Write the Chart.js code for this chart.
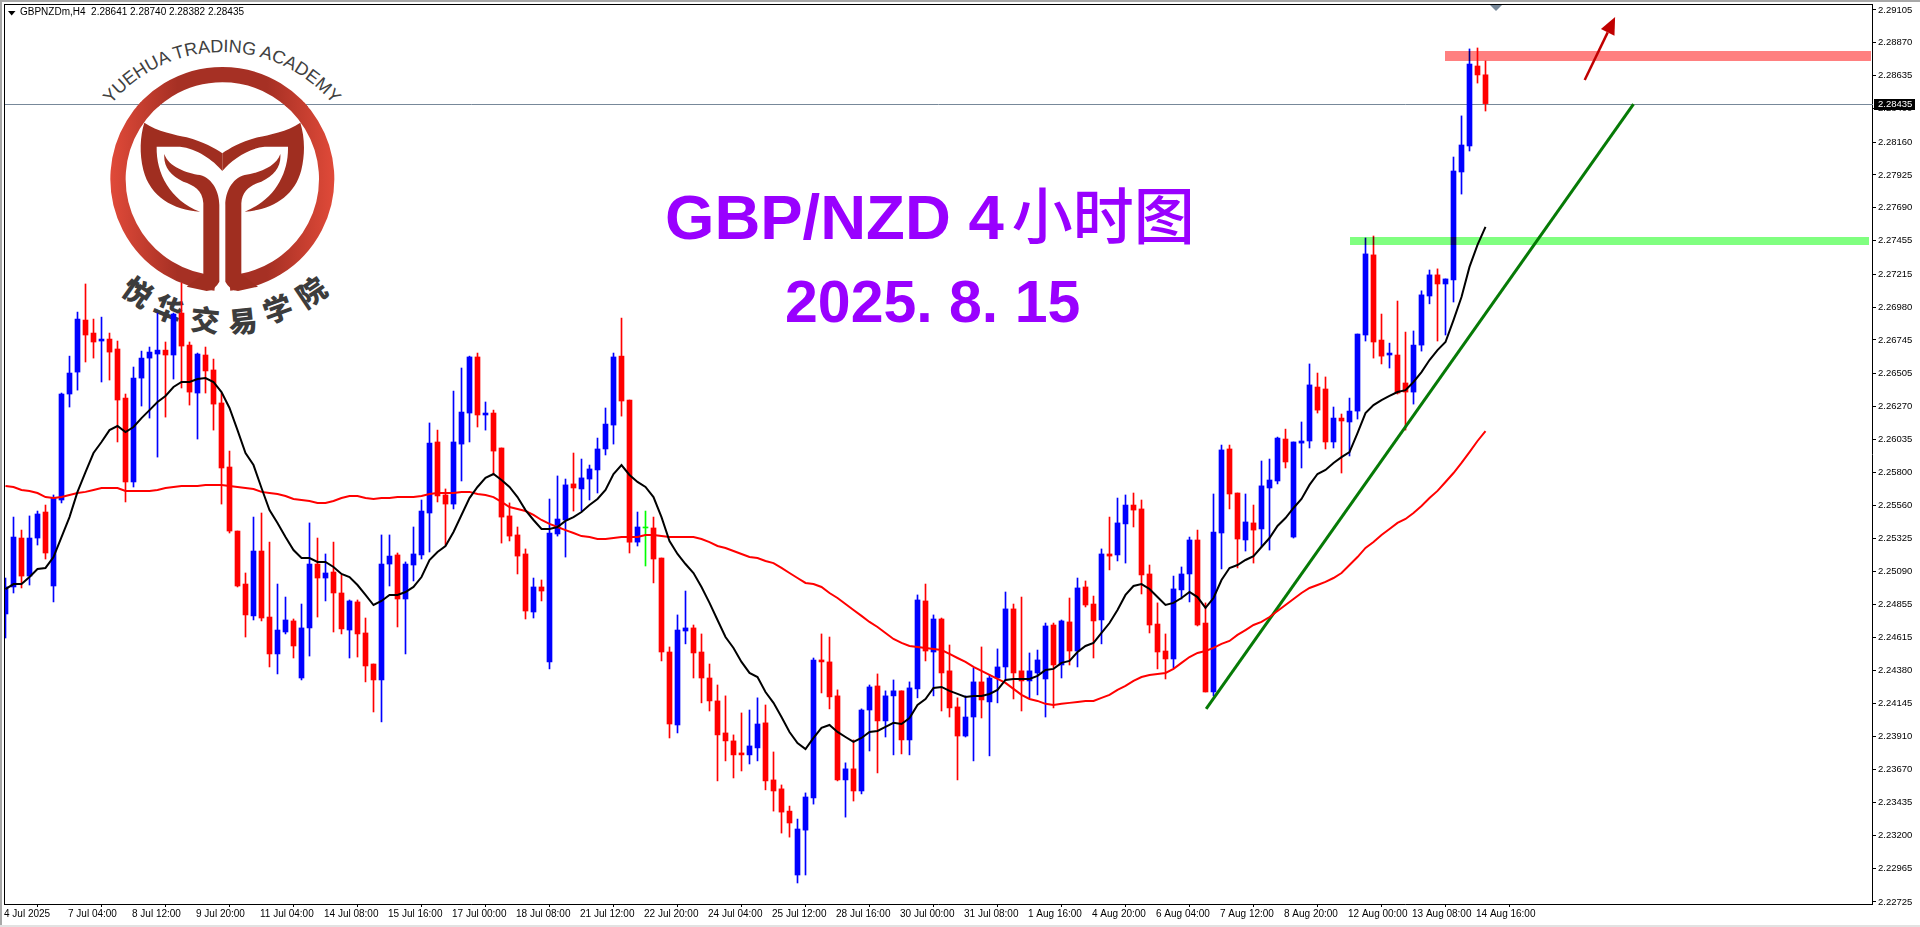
<!DOCTYPE html>
<html><head><meta charset="utf-8"><title>GBP/NZD H4</title>
<style>
html,body{margin:0;padding:0;background:#fff;width:1920px;height:927px;overflow:hidden}
#bg,#fg,canvas{position:absolute;left:0;top:0}
canvas{background:transparent}
#fg{pointer-events:none}
.chrome{position:absolute;background:#a8a8a8}
</style>
<script src="https://cdn.jsdelivr.net/npm/chart.js@4/dist/chart.umd.min.js"></script>
</head><body>
<svg id="bg" width="1920" height="927" viewBox="0 0 1920 927" xmlns="http://www.w3.org/2000/svg">
 <defs>
  <linearGradient id="ringGrad" gradientUnits="userSpaceOnUse" x1="331" y1="0" x2="1003" y2="0">
   <stop offset="0" stop-color="#e04a39"/><stop offset="0.3" stop-color="#a63024"/><stop offset="0.7" stop-color="#a63024"/><stop offset="1" stop-color="#e04a39"/>
  </linearGradient>
  <path id="topArc" d="M 87 146 A 144 144 0 0 1 357 146"/>
  <g id="ring"><path transform="scale(0.33333)" d="M 645 849 A 313 313 0 1 1 689 849" fill="none" stroke="url(#ringGrad)" stroke-width="46"/></g>
 </defs>
 <g id="logo">
  <use href="#ring"/>
  <g transform="scale(0.33333)" fill="#a02e20">
   <path id="armL" d="M433 368 C470 395 530 405 560 412 C610 425 645 445 667 460 L667 513 C640 480 590 445 540 440 L470 440 C468 520 510 600 600 635 C520 630 450 590 430 510 C418 460 420 410 433 368 Z"/>
   <path id="stemL" d="M493 462 C505 500 560 520 600 525 C640 535 658 580 658 615 L658 845 Q645 870 620 873 L560 860 L610 822 L610 610 C608 570 580 555 550 545 C510 525 490 500 493 462 Z"/>
   <use href="#armL" transform="translate(1334 0) scale(-1 1)"/>
   <use href="#stemL" transform="translate(1334 0) scale(-1 1)"/>
  </g>
  <text font-family="Liberation Sans" font-size="18" fill="#404040"><textPath href="#topArc" startOffset="50%" text-anchor="middle">YUEHUA TRADING ACADEMY</textPath></text>
  <g font-family="Noto Sans CJK SC" font-weight="900" font-size="29" fill="#3c3c3c" text-anchor="middle">
   <text transform="translate(137 293) rotate(35) translate(0 10)">悦</text>
   <text transform="translate(168 310) rotate(22) translate(0 10)">华</text>
   <text transform="translate(205 321) rotate(6) translate(0 10)">交</text>
   <text transform="translate(243 322) rotate(-6) translate(0 10)">易</text>
   <text transform="translate(278 310) rotate(-20) translate(0 10)">学</text>
   <text transform="translate(312 293) rotate(-34) translate(0 10)">院</text>
  </g>
 </g>
 <text x="665" y="239" font-family="Liberation Sans" font-weight="700" font-size="63.5" fill="#9900ff">GBP/NZD 4<tspan font-family="Noto Sans CJK SC" font-weight="500" font-size="61" dx="8">小时图</tspan></text>
 <text x="785" y="322" font-family="Liberation Sans" font-weight="700" font-size="59" fill="#9900ff">2025. 8. 15</text>
</svg>
<canvas id="c" width="1920" height="927"></canvas>
<svg id="fg" width="1920" height="927" viewBox="0 0 1920 927" xmlns="http://www.w3.org/2000/svg">
 <defs><clipPath id="lineRow"><rect x="0" y="102" width="1920" height="5"/></clipPath></defs>
 <g clip-path="url(#lineRow)"><use href="#ring"/></g>
</svg>
<div class="chrome" style="left:0;top:0;width:1920px;height:2px"></div>
<div class="chrome" style="left:0;top:0;width:2px;height:925px"></div>
<div class="chrome" style="left:0;top:925px;width:1920px;height:2px;background:#e2e2e2"></div>
<script>
const headerText = "GBPNZDm,H4  2.28641 2.28740 2.28382 2.28435";
const opens = [2.24785,2.24978,2.25328,2.25056,2.25328,2.25514,2.24985,2.25600,2.26358,2.26515,
2.26887,2.26794,2.26737,2.26751,2.26680,2.26329,2.25729,2.26472,2.26615,2.26644,
2.26672,2.26637,2.26937,2.26708,2.26365,2.26637,2.26530,2.26294,2.25836,2.25378,
2.24999,2.24771,2.25235,2.24763,2.24499,2.24656,2.24735,2.24327,2.24685,2.25142,
2.25042,2.25085,2.24935,2.24670,2.24871,2.24649,2.24427,2.24313,2.25142,2.25207,
2.24892,2.25135,2.25207,2.25507,2.26015,2.25636,2.25571,2.26000,2.26222,2.26623,
2.26208,2.26222,2.25972,2.25486,2.25350,2.25214,2.24799,2.24978,2.24442,2.25357,
2.25457,2.25715,2.25679,2.25750,2.25815,2.25965,2.26136,2.26629,2.26315,2.25299,
2.25400,2.25400,2.25185,2.24513,2.23991,2.24663,2.24685,2.24513,2.24327,2.24163,
2.23934,2.23877,2.23791,2.23777,2.23827,2.24006,2.23598,2.23534,2.23375,2.22918,
2.23239,2.23469,2.24456,2.24442,2.24199,2.23598,2.23677,2.23519,2.24098,2.24270,
2.24020,2.24199,2.24235,2.23884,2.24249,2.24878,2.24513,2.24749,2.24378,2.24120,
2.23912,2.24048,2.24299,2.24156,2.24327,2.24406,2.24821,2.24378,2.24306,2.24363,
2.24320,2.24706,2.24420,2.24728,2.24520,2.24978,2.24856,2.24742,2.25214,2.25207,
2.25429,2.25564,2.25536,2.25071,2.24713,2.24520,2.24463,2.24957,2.25071,2.25314,
2.24720,2.24227,2.25364,2.25965,2.25650,2.25314,2.25436,2.25393,2.25686,2.25736,
2.26036,2.25335,2.26007,2.26022,2.26408,2.26394,2.26015,2.26186,2.26158,2.26236,
2.26780,2.27353,2.26744,2.26637,2.26637,2.26437,2.26372,2.26708,2.27059,2.27210,
2.27145,2.27174,2.27946,2.28132,2.28704,2.28641];
const closes = [2.24978,2.25335,2.25056,2.25328,2.25500,2.25221,2.25614,2.26358,2.26508,2.26894,
2.26780,2.26730,2.26751,2.26658,2.26315,2.25729,2.26472,2.26615,2.26658,2.26672,
2.26637,2.26930,2.26701,2.26372,2.26644,2.26523,2.26286,2.25829,2.25378,2.24985,
2.24778,2.25235,2.24756,2.24499,2.24670,2.24742,2.24556,2.24685,2.25142,2.25042,
2.25078,2.24935,2.24678,2.24878,2.24642,2.24413,2.24313,2.25142,2.25199,2.24892,
2.25142,2.25214,2.25521,2.26007,2.25629,2.25571,2.26015,2.26229,2.26623,2.26208,
2.26222,2.25950,2.25478,2.25342,2.25199,2.24806,2.24978,2.24949,2.25364,2.25464,
2.25708,2.25686,2.25758,2.25822,2.25965,2.26143,2.26623,2.26308,2.25299,2.25407,
2.25400,2.25178,2.24513,2.23998,2.24670,2.24685,2.24506,2.24327,2.24163,2.23920,
2.23877,2.23777,2.23777,2.23841,2.23998,2.23591,2.23519,2.23368,2.23290,2.23247,
2.23476,2.24456,2.24442,2.24192,2.23598,2.23677,2.23519,2.24098,2.24263,2.24020,
2.24199,2.24235,2.23884,2.24256,2.24885,2.24520,2.24749,2.24363,2.24113,2.23912,
2.24048,2.24299,2.24170,2.24327,2.24406,2.24821,2.24363,2.24306,2.24378,2.24456,
2.24699,2.24420,2.24735,2.24520,2.24971,2.24849,2.24735,2.25214,2.25199,2.25436,
2.25564,2.25528,2.25064,2.24706,2.24513,2.24463,2.24964,2.25071,2.25314,2.24706,
2.24227,2.25371,2.25958,2.25643,2.25321,2.25443,2.25385,2.25701,2.25743,2.26043,
2.25872,2.26015,2.26022,2.26423,2.26243,2.26015,2.26186,2.26165,2.26236,2.26787,
2.27360,2.26730,2.26629,2.26651,2.26365,2.26372,2.26708,2.27067,2.27210,2.27145,
2.27181,2.27953,2.28139,2.28718,2.28640,2.28435];
const highs = [2.25042,2.25478,2.25385,2.25486,2.25521,2.25564,2.25636,2.26365,2.26629,2.26944,
2.27145,2.26894,2.26908,2.26794,2.26737,2.26358,2.26551,2.26665,2.26694,2.26937,
2.26730,2.26937,2.27152,2.26730,2.26651,2.26694,2.26608,2.26365,2.25950,2.25378,
2.25078,2.25478,2.25507,2.25299,2.24999,2.24906,2.24749,2.24856,2.25436,2.25328,
2.25214,2.25299,2.25064,2.24885,2.24885,2.24756,2.24427,2.25350,2.25350,2.25221,
2.25157,2.25407,2.25600,2.26151,2.26100,2.25679,2.26379,2.26544,2.26629,2.26651,
2.26301,2.26243,2.25972,2.25579,2.25407,2.25250,2.25042,2.25028,2.25607,2.25772,
2.25750,2.25936,2.25893,2.25850,2.26043,2.26258,2.26651,2.26901,2.26315,2.25514,
2.25521,2.25478,2.25185,2.24549,2.24778,2.24949,2.24706,2.24642,2.24427,2.24277,
2.24199,2.23920,2.24077,2.24098,2.24185,2.24134,2.23798,2.23562,2.23411,2.23318,
2.23505,2.24470,2.24642,2.24620,2.24242,2.23720,2.23884,2.24106,2.24277,2.24356,
2.24235,2.24313,2.24235,2.24299,2.24921,2.24999,2.24778,2.24756,2.24563,2.24185,
2.24199,2.24399,2.24549,2.24349,2.24535,2.24942,2.24856,2.24906,2.24506,2.24527,
2.24720,2.24720,2.24742,2.24899,2.25042,2.25021,2.24913,2.25250,2.25478,2.25614,
2.25636,2.25650,2.25600,2.25135,2.24864,2.24642,2.25056,2.25121,2.25335,2.25385,
2.24864,2.25643,2.25993,2.25993,2.25650,2.25643,2.25564,2.25879,2.25893,2.26050,
2.26107,2.26015,2.26158,2.26573,2.26508,2.26480,2.26265,2.26215,2.26329,2.26787,
2.27474,2.27488,2.26930,2.26722,2.27023,2.26801,2.26809,2.27096,2.27245,2.27253,
2.27181,2.28053,2.28347,2.28826,2.28833,2.28740];
const lows = [2.24613,2.24935,2.24971,2.24992,2.25278,2.25178,2.24871,2.25579,2.26265,2.26386,
2.26587,2.26615,2.26444,2.26458,2.26015,2.25586,2.25693,2.26272,2.26186,2.25907,
2.26193,2.26465,2.26401,2.26279,2.26036,2.26365,2.26100,2.25571,2.25364,2.24978,
2.24620,2.24742,2.24735,2.24406,2.24356,2.24642,2.24470,2.24313,2.24484,2.24763,
2.24878,2.24656,2.24642,2.24470,2.24477,2.24299,2.24084,2.24013,2.24985,2.24692,
2.24499,2.25021,2.25178,2.25228,2.25586,2.25278,2.25536,2.25736,2.26015,2.26122,
2.26100,2.25779,2.25292,2.25307,2.25071,2.24749,2.24756,2.24878,2.24392,2.25342,
2.25192,2.25521,2.25521,2.25600,2.25650,2.25922,2.26000,2.26200,2.25221,2.25271,
2.25128,2.25007,2.24449,2.23898,2.23934,2.24571,2.24327,2.24149,2.24091,2.23591,
2.23734,2.23612,2.23662,2.23712,2.23734,2.23527,2.23375,2.23218,2.23189,2.22861,
2.22918,2.23425,2.24220,2.24106,2.23591,2.23332,2.23447,2.23498,2.23805,2.23648,
2.23905,2.23777,2.23784,2.23777,2.24185,2.24449,2.24199,2.24091,2.24048,2.23598,
2.23905,2.23734,2.24041,2.23770,2.24149,2.24313,2.24177,2.24091,2.24185,2.24206,
2.24048,2.24113,2.24327,2.24420,2.24406,2.24835,2.24470,2.24571,2.25100,2.25164,
2.25149,2.25407,2.24928,2.24649,2.24392,2.24320,2.24399,2.24892,2.24871,2.24699,
2.24227,2.24199,2.25107,2.25536,2.25114,2.25235,2.25149,2.25264,2.25242,2.25715,
2.25829,2.25328,2.25829,2.25972,2.26222,2.25965,2.25972,2.25793,2.25915,2.26179,
2.26737,2.26615,2.26573,2.26544,2.26358,2.26100,2.26286,2.26665,2.27003,2.26737,
2.26780,2.27016,2.27788,2.28096,2.28582,2.28382];
const fastMA = [2.24963,2.24999,2.24999,2.25049,2.25107,2.25114,2.25192,2.25335,2.25478,2.25658,
2.25800,2.25936,2.26015,2.26100,2.26129,2.26086,2.26122,2.26186,2.26243,2.26301,
2.26344,2.26408,2.26444,2.26444,2.26465,2.26472,2.26444,2.26372,2.26258,2.26100,
2.25936,2.25850,2.25686,2.25528,2.25436,2.25335,2.25242,2.25185,2.25185,2.25157,
2.25157,2.25121,2.25071,2.25049,2.24992,2.24921,2.24849,2.24878,2.24921,2.24921,
2.24942,2.24978,2.25049,2.25171,2.25228,2.25271,2.25371,2.25493,2.25614,2.25693,
2.25758,2.25786,2.25743,2.25693,2.25621,2.25528,2.25457,2.25393,2.25393,2.25407,
2.25450,2.25478,2.25514,2.25564,2.25607,2.25672,2.25786,2.25850,2.25779,2.25729,
2.25693,2.25621,2.25478,2.25307,2.25214,2.25142,2.25078,2.24978,2.24864,2.24742,
2.24620,2.24542,2.24442,2.24363,2.24334,2.24227,2.24149,2.24048,2.23941,2.23862,
2.23819,2.23898,2.23970,2.23991,2.23941,2.23905,2.23870,2.23898,2.23941,2.23948,
2.23977,2.24006,2.23998,2.24041,2.24134,2.24177,2.24256,2.24263,2.24235,2.24213,
2.24192,2.24199,2.24199,2.24213,2.24242,2.24313,2.24320,2.24320,2.24320,2.24342,
2.24385,2.24392,2.24435,2.24449,2.24513,2.24556,2.24578,2.24649,2.24720,2.24813,
2.24921,2.24985,2.24999,2.24964,2.24906,2.24849,2.24864,2.24899,2.24942,2.24906,
2.24828,2.24899,2.25028,2.25114,2.25135,2.25171,2.25199,2.25264,2.25328,2.25414,
2.25471,2.25543,2.25607,2.25708,2.25786,2.25815,2.25865,2.25907,2.25943,2.26079,
2.26222,2.26279,2.26315,2.26344,2.26372,2.26386,2.26444,2.26515,2.26601,2.26672,
2.26730,2.26887,2.27052,2.27267,2.27424,2.27553];
const slowMA = [2.25700,2.25693,2.25672,2.25665,2.25650,2.25621,2.25614,2.25621,2.25636,2.25650,
2.25658,2.25672,2.25686,2.25686,2.25686,2.25665,2.25665,2.25665,2.25665,2.25672,
2.25686,2.25693,2.25700,2.25700,2.25700,2.25708,2.25708,2.25708,2.25700,2.25693,
2.25686,2.25679,2.25658,2.25650,2.25643,2.25629,2.25607,2.25600,2.25593,2.25579,
2.25579,2.25593,2.25614,2.25629,2.25629,2.25614,2.25607,2.25614,2.25614,2.25621,
2.25621,2.25621,2.25629,2.25643,2.25650,2.25650,2.25650,2.25658,2.25658,2.25643,
2.25636,2.25621,2.25586,2.25550,2.25536,2.25521,2.25493,2.25457,2.25429,2.25407,
2.25385,2.25364,2.25342,2.25335,2.25321,2.25321,2.25328,2.25335,2.25335,2.25335,
2.25350,2.25350,2.25342,2.25335,2.25335,2.25335,2.25335,2.25321,2.25299,2.25271,
2.25257,2.25235,2.25214,2.25192,2.25185,2.25164,2.25149,2.25114,2.25078,2.25042,
2.25007,2.24999,2.24978,2.24935,2.24899,2.24856,2.24813,2.24771,2.24728,2.24692,
2.24649,2.24606,2.24578,2.24556,2.24549,2.24542,2.24535,2.24527,2.24499,2.24470,
2.24442,2.24406,2.24378,2.24349,2.24320,2.24292,2.24249,2.24206,2.24177,2.24163,
2.24142,2.24134,2.24142,2.24149,2.24156,2.24163,2.24163,2.24185,2.24206,2.24242,
2.24270,2.24306,2.24334,2.24349,2.24356,2.24363,2.24392,2.24435,2.24477,2.24506,
2.24520,2.24542,2.24571,2.24592,2.24635,2.24670,2.24706,2.24728,2.24763,2.24806,
2.24849,2.24892,2.24935,2.24971,2.24992,2.25014,2.25042,2.25078,2.25135,2.25192,
2.25257,2.25299,2.25350,2.25393,2.25436,2.25464,2.25507,2.25557,2.25614,2.25665,
2.25729,2.25793,2.25865,2.25943,2.26022,2.26093];
const priceTicks = [2.29105,2.28870,2.28635,2.28400,2.28160,2.27925,2.27690,2.27455,2.27215,2.26980,2.26745,2.26505,2.26270,2.26035,2.25800,2.25560,2.25325,2.25090,2.24855,2.24615,2.24380,2.24145,2.23910,2.23670,2.23435,2.23200,2.22965,2.22725];
const timeTickIndex = [0,8,16,24,32,40,48,56,64,72,80,88,96,104,112,120,128,136,144,152,160,168,176,184];
const timeTickLabels = ["4 Jul 2025","7 Jul 04:00","8 Jul 12:00","9 Jul 20:00","11 Jul 04:00","14 Jul 08:00","15 Jul 16:00","17 Jul 00:00","18 Jul 08:00","21 Jul 12:00","22 Jul 20:00","24 Jul 04:00","25 Jul 12:00","28 Jul 16:00","30 Jul 00:00","31 Jul 08:00","1 Aug 16:00","4 Aug 20:00","6 Aug 04:00","7 Aug 12:00","8 Aug 20:00","12 Aug 00:00","13 Aug 08:00","14 Aug 16:00"];
const lastPrice = 2.28435;
const resistanceZone = {from:179.96, to:233.2, top:2.28811, bottom:2.28740};
const supportZone = {from:168.08, to:232.95, top:2.27481, bottom:2.27424};
const trendX = [150.08,203.5];
const trendY = [2.24106,2.28432];
const arrowX = [197.4,201.2];
const arrowY = [2.28604,2.29054];
const xMin = -0.1875, xMax = 233.3125, yMin = 2.227106, yMax = 2.291474;

const colorOf = i => closes[i] > opens[i] ? '#0000ff' : (closes[i] < opens[i] ? '#ff0000' : '#00ff00');
const candleColors = opens.map((_, i) => colorOf(i));
const wickData = opens.map((_, i) => ({x:i, y:[lows[i], highs[i]]}));
const bodyData = opens.map((_, i) => ({x:i, y:[Math.min(opens[i],closes[i]), Math.max(opens[i],closes[i])]}));
const toLine = arr => arr.map((v,i)=>({x:i,y:v}));

const overlays = {
  id:'overlays',
  beforeDatasetsDraw(chart){
    const {ctx, scales:{x,y}, chartArea:a} = chart;
    ctx.save();
    const py = Math.round(y.getPixelForValue(lastPrice)) + .5;
    ctx.strokeStyle = '#778899'; ctx.lineWidth = 1;
    ctx.beginPath(); ctx.moveTo(a.left, py); ctx.lineTo(a.right + 1, py); ctx.stroke();
    ctx.restore();
  },
  afterDatasetsDraw(chart){
    const {ctx, scales:{x,y}} = chart;
    ctx.save();
    const x0=x.getPixelForValue(arrowX[0]), y0=y.getPixelForValue(arrowY[0]);
    const x1=x.getPixelForValue(arrowX[1]), y1=y.getPixelForValue(arrowY[1]);
    const ang=Math.atan2(y1-y0,x1-x0), head=17, hw=7.5;
    const bx=x1-head*Math.cos(ang), by=y1-head*Math.sin(ang);
    ctx.strokeStyle='#c00000'; ctx.fillStyle='#c00000'; ctx.lineWidth=2.5;
    ctx.beginPath(); ctx.moveTo(x0,y0); ctx.lineTo(bx,by); ctx.stroke();
    ctx.beginPath(); ctx.moveTo(x1,y1);
    ctx.lineTo(bx-hw*Math.sin(ang),by+hw*Math.cos(ang));
    ctx.lineTo(bx+hw*Math.sin(ang),by-hw*Math.cos(ang));
    ctx.closePath(); ctx.fill();
    ctx.globalCompositeOperation='multiply';
    [[resistanceZone,'#ff8080'],[supportZone,'#80ff80']].forEach(([z,c])=>{
      const l=x.getPixelForValue(z.from), r=x.getPixelForValue(z.to);
      const t=Math.round(y.getPixelForValue(z.top)), b=Math.round(y.getPixelForValue(z.bottom));
      ctx.fillStyle=c; ctx.fillRect(Math.round(l),t,Math.round(r-l),b-t);
    });
    ctx.restore();
  },
  afterDraw(chart){
    const {ctx, scales:{y}, chartArea:a} = chart;
    ctx.save();
    ctx.fillStyle='#000';
    ctx.fillRect(a.left, a.top, a.right-a.left+1, 1);
    ctx.fillRect(a.left, a.top, 1, a.bottom-a.top);
    ctx.beginPath(); ctx.moveTo(8,11); ctx.lineTo(15.5,11); ctx.lineTo(11.7,15.5); ctx.closePath(); ctx.fill();
    ctx.font='10px "Liberation Sans"'; ctx.textBaseline='middle'; ctx.textAlign='left';
    ctx.fillText(headerText,20,12.5);
    ctx.fillStyle='#778899';
    ctx.beginPath(); ctx.moveTo(1490,5); ctx.lineTo(1502,5); ctx.lineTo(1496,11); ctx.closePath(); ctx.fill();
    const py=Math.round(y.getPixelForValue(lastPrice));
    ctx.fillStyle='#000'; ctx.fillRect(1874,py-5,41,11);
    ctx.fillStyle='#fff'; ctx.font='9.5px "Liberation Sans"';
    ctx.fillText(lastPrice.toFixed(5),1878,py+.5);
    ctx.restore();
  }
};

new Chart(document.getElementById('c'),{
  data:{datasets:[
    {type:'line',label:'Fast MA',data:toLine(fastMA),borderColor:'#000',borderWidth:2,pointRadius:0,tension:0,order:0},
    {type:'line',label:'Slow MA',data:toLine(slowMA),borderColor:'#ff0000',borderWidth:2,pointRadius:0,tension:0,order:0},
    {type:'line',label:'Trend',data:trendX.map((v,i)=>({x:v,y:trendY[i]})),borderColor:'#067a06',borderWidth:3,pointRadius:0,tension:0,order:0},
    {type:'bar',label:'Body',data:bodyData,backgroundColor:candleColors,barThickness:5,grouped:false,minBarLength:1,order:1},
    {type:'bar',label:'Wick',data:wickData,backgroundColor:candleColors,barThickness:1,grouped:false,order:2}
  ]},
  options:{
    responsive:false,animation:false,
    events:[],
    layout:{padding:{left:4,top:4,right:0,bottom:0}},
    plugins:{legend:{display:false},tooltip:{enabled:false},title:{display:false}},
    scales:{
      x:{type:'linear',min:xMin,max:xMax,offset:false,
        afterBuildTicks(s){s.ticks=timeTickIndex.map(v=>({value:v}));},
        afterFit(s){s.height=23;s.paddingLeft=0;s.paddingRight=0;},
        grid:{drawOnChartArea:false,drawTicks:true,tickLength:3,color:'#000',tickColor:'#000'},
        border:{display:true,color:'#000',width:1},
        ticks:{autoSkip:false,maxRotation:0,minRotation:0,align:'start',labelOffset:-1.5,padding:1,color:'#000',
          font:{family:'"Liberation Sans"',size:10},
          callback(v,i){return timeTickLabels[i];}}
      },
      y:{type:'linear',position:'right',min:yMin,max:yMax,
        afterBuildTicks(s){s.ticks=priceTicks.map(v=>({value:v}));},
        afterFit(s){s.width=48;s.paddingTop=0;s.paddingBottom=0;},
        grid:{drawOnChartArea:false,drawTicks:true,tickLength:4,color:'#000',tickColor:'#000'},
        border:{display:true,color:'#000',width:1},
        ticks:{autoSkip:false,padding:2,color:'#000',font:{family:'"Liberation Sans"',size:9.5},
          callback(v){return v.toFixed(5);}}
      }
    }
  },
  plugins:[overlays]
});
</script>
</body></html>
